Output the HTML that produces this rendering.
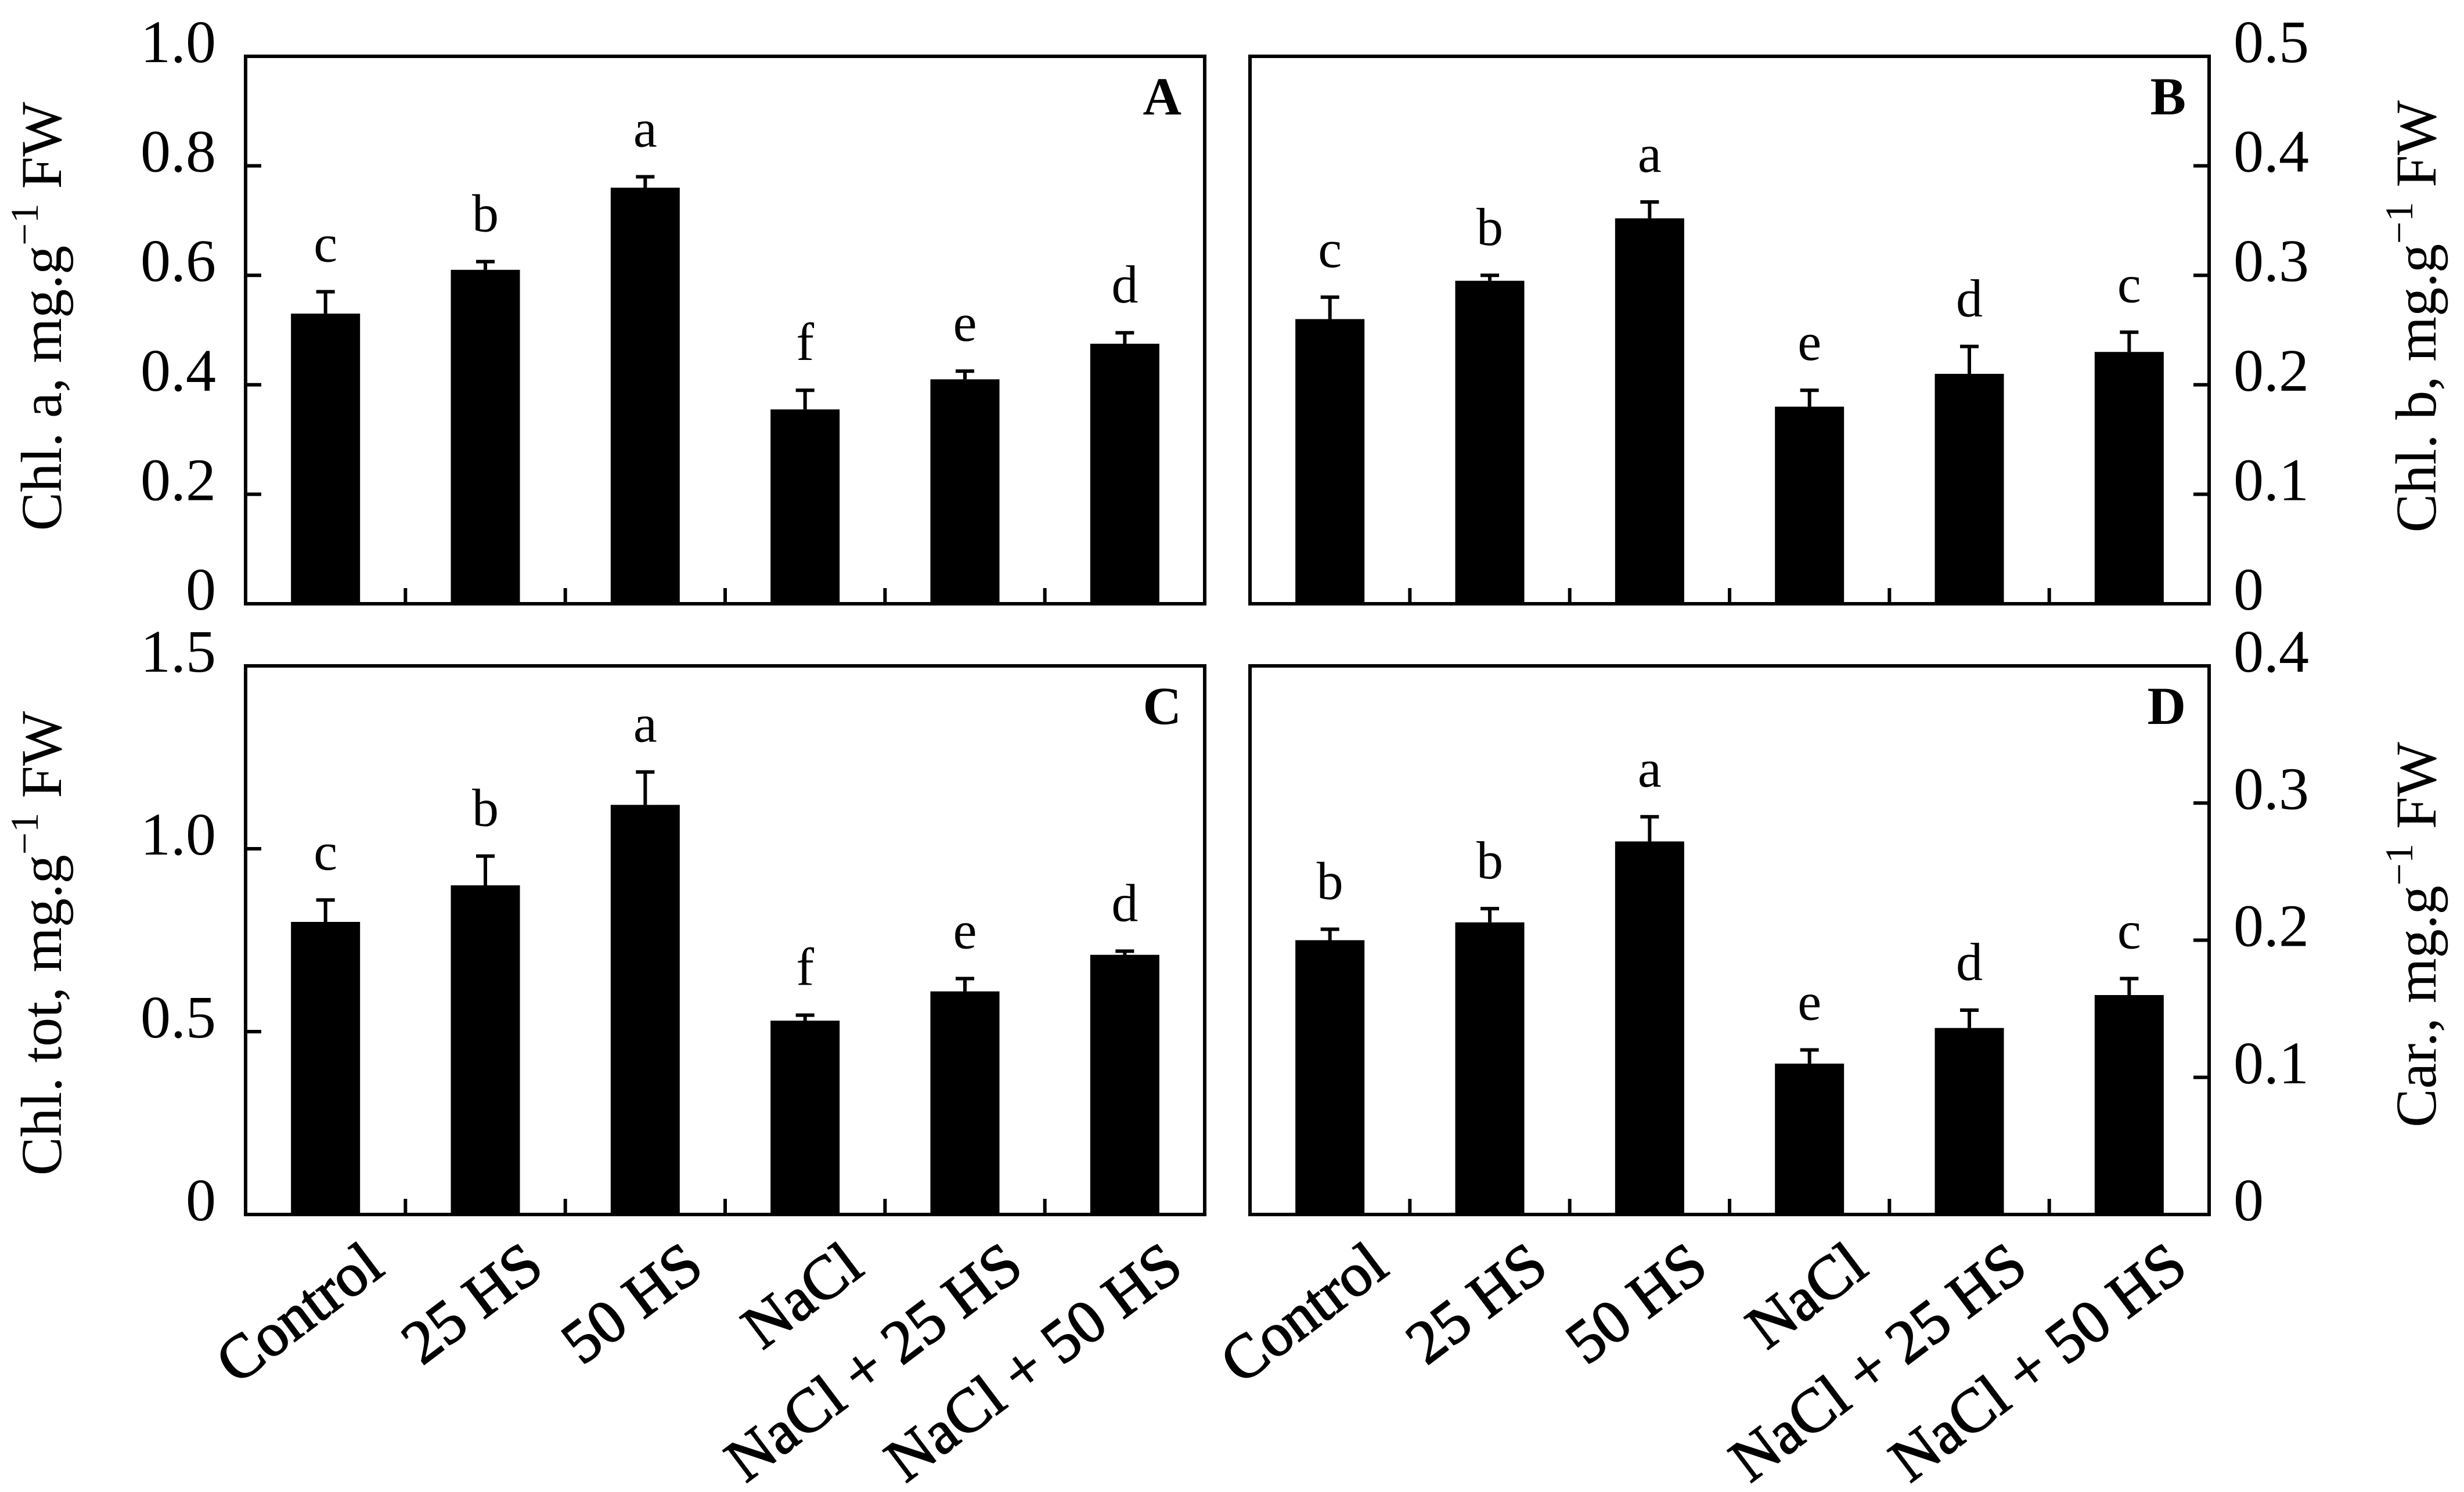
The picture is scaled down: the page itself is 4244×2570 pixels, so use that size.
<!DOCTYPE html>
<html><head><meta charset="utf-8"><style>
html,body{margin:0;padding:0;background:#fff;}
svg{display:block;}
svg text{font-family:"Liberation Serif","Times New Roman",serif;}
</style></head><body>
<svg id="chart" width="4244" height="2570" viewBox="0 0 4244 2570" xmlns="http://www.w3.org/2000/svg" font-family="Liberation Serif, serif"></svg>
<script>
const categories = ["Control","25 HS","50 HS","NaCl","NaCl + 25 HS","NaCl + 50 HS"];
const chlA = [0.53,0.61,0.76,0.355,0.41,0.475];
const chlAErr = [0.04,0.015,0.02,0.035,0.015,0.02];
const chlALetters = ["c","b","a","f","e","d"];
const chlB = [0.26,0.295,0.352,0.18,0.21,0.23];
const chlBErr = [0.02,0.005,0.015,0.015,0.025,0.018];
const chlBLetters = ["c","b","a","e","d","c"];
const chlTot = [0.80,0.90,1.12,0.53,0.61,0.71];
const chlTotErr = [0.06,0.08,0.09,0.015,0.035,0.01];
const chlTotLetters = ["c","b","a","f","e","d"];
const car = [0.2,0.213,0.272,0.11,0.136,0.16];
const carErr = [0.008,0.01,0.018,0.01,0.013,0.012];
const carLetters = ["b","b","a","e","d","c"];
const ticksA = ["0","0.2","0.4","0.6","0.8","1.0"];
const ticksB = ["0","0.1","0.2","0.3","0.4","0.5"];
const ticksC = ["0","0.5","1.0","1.5"];
const ticksD = ["0","0.1","0.2","0.3","0.4"];

const NS="http://www.w3.org/2000/svg";
const svg=document.getElementById('chart');
function mk(tag,attrs,parent){const e=document.createElementNS(NS,tag);for(const k in attrs)e.setAttribute(k,attrs[k]);(parent||svg).appendChild(e);return e;}
const FF='"Liberation Serif","Times New Roman",serif';

const panels=[
 {id:'a',x0:423,x1:2075,y0:97,y1:1040,max:1.0,vals:chlA,err:chlAErr,let:chlALetters,ticks:ticksA,side:'left',label:'A',title:'Chl. a, mg.g',tcy:545,xlabels:false},
 {id:'b',x0:2153,x1:3805,y0:97,y1:1040,max:0.5,vals:chlB,err:chlBErr,let:chlBLetters,ticks:ticksB,side:'right',label:'B',title:'Chl. b, mg.g',tcy:545,xlabels:false},
 {id:'c',x0:423,x1:2075,y0:1147,y1:2092,max:1.5,vals:chlTot,err:chlTotErr,let:chlTotLetters,ticks:ticksC,side:'left',label:'C',title:'Chl. tot, mg.g',tcy:1625,xlabels:true},
 {id:'d',x0:2153,x1:3805,y0:1147,y1:2092,max:0.4,vals:car,err:carErr,let:carLetters,ticks:ticksD,side:'right',label:'D',title:'Car., mg.g',tcy:1610,xlabels:true}
];

panels.forEach(p=>{
 const g=mk('g',{'font-family':FF});
 
 
 const yS=v=>p.y1-(v/p.max)*(p.y1-p.y0);
 const band=(p.x1-p.x0)/categories.length;
 const xC=i=>p.x0+band*(i+0.5);
 const frame=mk('rect',{x:p.x0,y:p.y0,width:p.x1-p.x0,height:p.y1-p.y0,fill:'none',stroke:'#000','stroke-width':6},g);
 
 
 p.ticks.forEach(t=>{
  const v=parseFloat(t), y=yS(v);
  if(v>0 && v<p.max){
   const tx=p.side==='left'?p.x0:p.x1;
   const tl=mk('line',{x1:tx,x2:p.side==='left'?tx+27:tx-27,y1:y,y2:y,stroke:'#000','stroke-width':6},g);
   
   
  }
  const lab=mk('text',{x:p.side==='left'?372:3847,y:y+10,'font-size':104,'font-family':FF,'text-anchor':p.side==='left'?'end':'start'},g);
  lab.textContent=t;
  
  
 });
 for(let i=1;i<categories.length;i++){
  const x=p.x0+band*i;
  const xt=mk('line',{x1:x,x2:x,y1:p.y1,y2:p.y1-27,stroke:'#000','stroke-width':6},g);
  
  
 }
 const bw=119;
 p.vals.forEach((v,i)=>{
  const cx=xC(i), top=yS(v), et=yS(v+p.err[i]);
  const b=mk('rect',{x:cx-bw/2,y:top,width:bw,height:p.y1-top,fill:'#000'},g);
  
  
  const e=mk('path',{d:`M${cx},${top} V${et} M${cx-16},${et} H${cx+16}`,stroke:'#000','stroke-width':6,fill:'none'},g);
  
  
  const l=mk('text',{x:cx,y:et-52,'font-size':92,'font-family':FF,'text-anchor':'middle'},g);
  l.textContent=p.let[i];
  
  
  if(p.xlabels){
   const ax=cx+105, ay=2192;
   const xl=mk('text',{x:ax,y:ay,'font-size':106,'font-family':FF,'stroke':'#000','stroke-width':2,'text-anchor':'end',transform:`rotate(-37 ${ax} ${ay})`},g);
   xl.textContent=categories[i];
   
   
  }
 });
 const pl=mk('text',{x:p.x1-40,y:p.y0+100,'font-size':92,'font-weight':'bold','font-family':FF,'text-anchor':'end'},g);
 pl.textContent=p.label;
 
 
 const tx=p.side==='left'?105:4195;
 const tt=mk('text',{x:tx,y:p.tcy,'font-size':100,'font-family':FF,'text-anchor':'middle',transform:`rotate(-90 ${tx} ${p.tcy})`},g);
 
 
 tt.appendChild(document.createTextNode(p.title));
 const sup=mk('tspan',{dy:-40,'font-size':68},tt);
 sup.textContent='\u22121';
 const rest=mk('tspan',{dy:40,'font-size':100},tt);
 rest.textContent=' FW';
});
</script>
</body></html>
